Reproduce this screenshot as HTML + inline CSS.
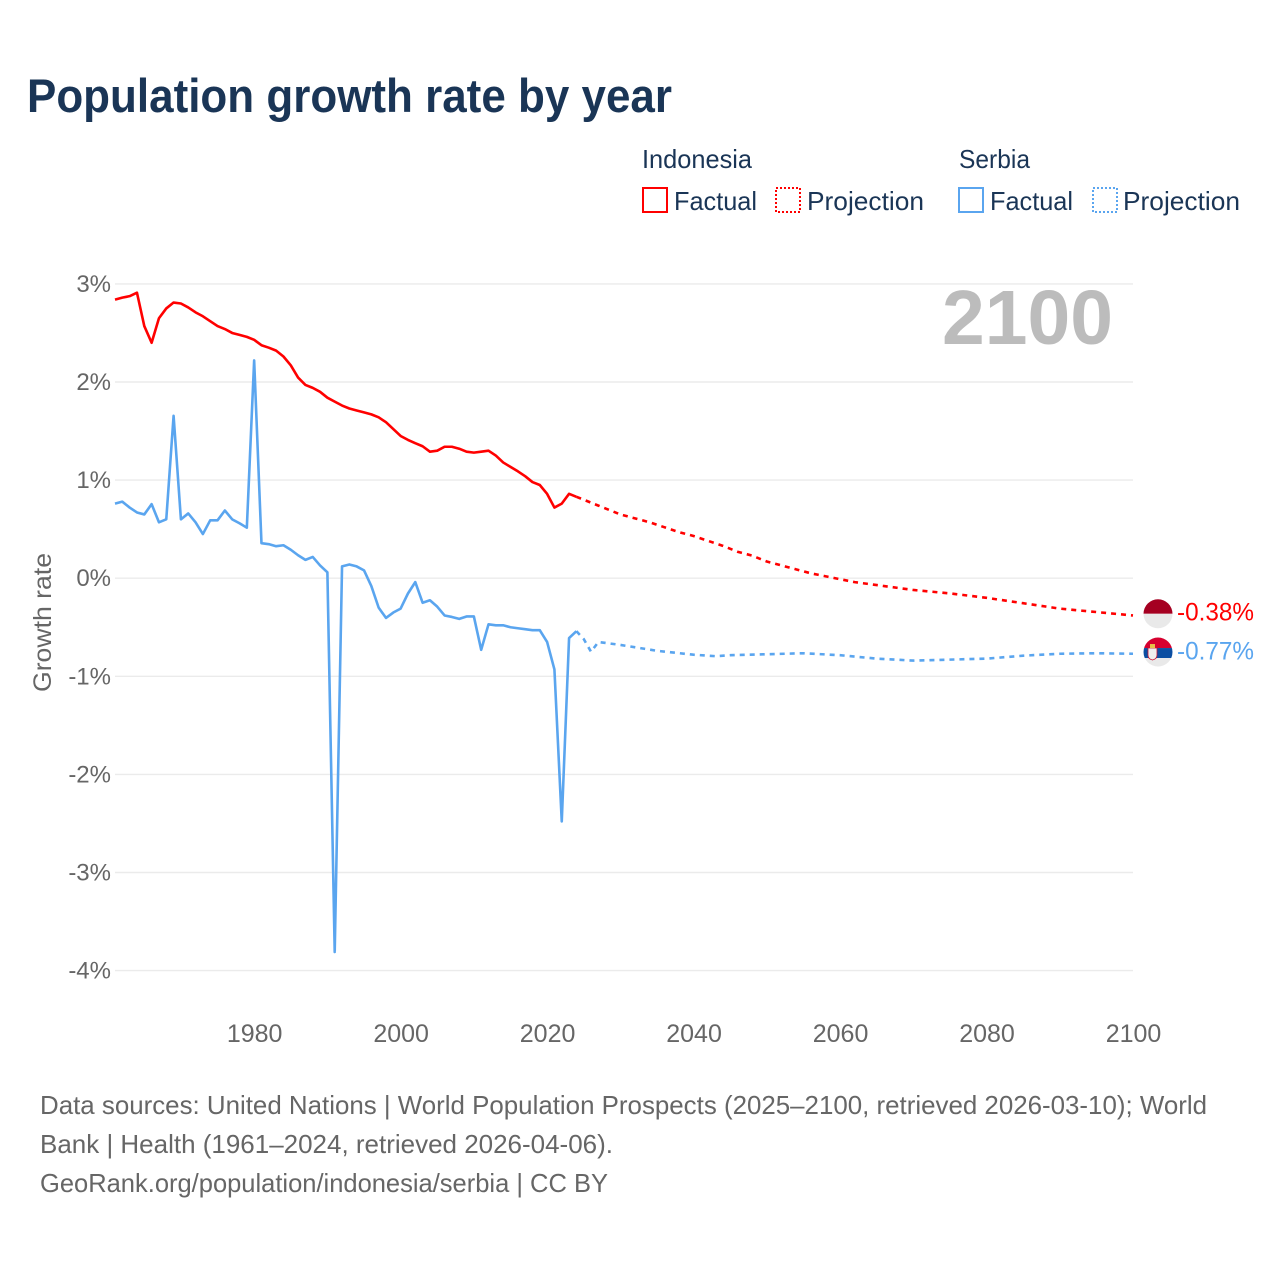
<!DOCTYPE html>
<html lang="en">
<head>
<meta charset="utf-8">
<title>Population growth rate by year</title>
<style>
html,body{margin:0;padding:0;background:#fff;width:1280px;height:1280px;overflow:hidden}
svg{display:block;font-family:"Liberation Sans",sans-serif}
</style>
</head>
<body>
<svg id="chart" width="1280" height="1280" viewBox="0 0 1280 1280" xmlns="http://www.w3.org/2000/svg">
  <defs>
    <clipPath id="flag-clip-a"><circle cx="0" cy="0" r="14.5"></circle></clipPath>
    <clipPath id="flag-clip-b"><circle cx="0" cy="0" r="14.5"></circle></clipPath>
  </defs>
  <text x="27" y="112" font-size="47" font-weight="700" fill="#1a3556" textLength="645" lengthAdjust="spacingAndGlyphs">Population growth rate by year</text>

  <g font-size="26" fill="#1a3556">
    <text x="642" y="168" textLength="110" lengthAdjust="spacingAndGlyphs">Indonesia</text>
    <text x="959" y="168" textLength="71" lengthAdjust="spacingAndGlyphs">Serbia</text>
    <rect x="643" y="188" width="24" height="24" fill="none" stroke="#ff0000" stroke-width="2"></rect>
    <text x="674" y="210" textLength="83" lengthAdjust="spacingAndGlyphs">Factual</text>
    <rect x="776" y="188" width="24" height="24" fill="none" stroke="#ff0000" stroke-width="2" stroke-dasharray="2 2"></rect>
    <text x="807" y="210" textLength="117" lengthAdjust="spacingAndGlyphs">Projection</text>
    <rect x="959" y="188" width="24" height="24" fill="none" stroke="#5aa5ef" stroke-width="2"></rect>
    <text x="990" y="210" textLength="83" lengthAdjust="spacingAndGlyphs">Factual</text>
    <rect x="1093" y="188" width="24" height="24" fill="none" stroke="#5aa5ef" stroke-width="2" stroke-dasharray="2 2"></rect>
    <text x="1123" y="210" textLength="117" lengthAdjust="spacingAndGlyphs">Projection</text>
  </g>

  <g id="grid"></g>
  <g id="y-ticks" font-size="24" fill="#666" text-anchor="end"></g>
  <g id="x-ticks" font-size="25" fill="#666" text-anchor="middle"></g>

  <text x="942" y="344" font-size="77" font-weight="700" fill="#bcbcbc" textLength="171" lengthAdjust="spacingAndGlyphs">2100</text>
  <text transform="translate(51,692) rotate(-90)" font-size="25" fill="#666" textLength="139" lengthAdjust="spacingAndGlyphs">Growth rate</text>

  <g id="series"></g>

  <g id="flag-indonesia">
    <g clip-path="url(#flag-clip-a)">
      <rect x="-15" y="-15" width="30" height="15" fill="#a50021"></rect>
      <rect x="-15" y="0" width="30" height="15" fill="#e9e9e9"></rect>
    </g>
  </g>
  <g id="flag-serbia">
    <g clip-path="url(#flag-clip-b)">
      <rect x="-15" y="-15" width="30" height="11" fill="#d6002f"></rect>
      <rect x="-15" y="-4" width="30" height="10" fill="#0b4ea2"></rect>
      <rect x="-15" y="6" width="30" height="9" fill="#e9e9e9"></rect>
      <path d="M-10,-4 h9 v7 q0,4 -4.5,5 q-4.500,-1 -4.500,-5 z" fill="#eeeeee" stroke="#c8102e" stroke-width="0.8"></path>
      <rect x="-8" y="-8" width="5" height="4" fill="#e8c04a"></rect>
    </g>
  </g>
  <text id="end-label-indonesia" x="1177" font-size="25" fill="#ff0000" textLength="77" lengthAdjust="spacingAndGlyphs"></text>
  <text id="end-label-serbia" x="1177" font-size="25" fill="#5aa5ef" textLength="77" lengthAdjust="spacingAndGlyphs"></text>

  <g font-size="26" fill="#666">
    <text x="40" y="1114" textLength="1167" lengthAdjust="spacingAndGlyphs">Data sources: United Nations | World Population Prospects (2025–2100, retrieved 2026-03-10); World</text>
    <text x="40" y="1153" textLength="573" lengthAdjust="spacingAndGlyphs">Bank | Health (1961–2024, retrieved 2026-04-06).</text>
    <text x="40" y="1192" textLength="568" lengthAdjust="spacingAndGlyphs">GeoRank.org/population/indonesia/serbia | CC BY</text>
  </g>
</svg>
<script>
const yTickValues = [3, 2, 1, 0, -1, -2, -3, -4];
const yTickLabels = ['3%', '2%', '1%', '0%', '-1%', '-2%', '-3%', '-4%'];
const xTickYears = [1980, 2000, 2020, 2040, 2060, 2080, 2100];
const factualYears = [1961,1962,1963,1964,1965,1966,1967,1968,1969,1970,1971,1972,1973,1974,1975,1976,1977,1978,1979,1980,1981,1982,1983,1984,1985,1986,1987,1988,1989,1990,1991,1992,1993,1994,1995,1996,1997,1998,1999,2000,2001,2002,2003,2004,2005,2006,2007,2008,2009,2010,2011,2012,2013,2014,2015,2016,2017,2018,2019,2020,2021,2022,2023,2024];
const indonesiaFactual = [2.84,2.86,2.875,2.91,2.57,2.40,2.65,2.75,2.81,2.80,2.76,2.71,2.67,2.62,2.57,2.54,2.50,2.48,2.46,2.43,2.375,2.35,2.32,2.26,2.17,2.045,1.97,1.94,1.90,1.84,1.80,1.76,1.73,1.71,1.69,1.67,1.64,1.59,1.52,1.45,1.41,1.376,1.345,1.29,1.30,1.34,1.34,1.32,1.29,1.28,1.29,1.30,1.25,1.18,1.135,1.09,1.04,0.98,0.95,0.86,0.72,0.76,0.86,0.83];
const serbiaFactual = [0.76,0.78,0.72,0.67,0.65,0.755,0.57,0.60,1.655,0.60,0.66,0.57,0.45,0.59,0.59,0.69,0.60,0.56,0.515,2.22,0.357,0.347,0.326,0.336,0.29,0.234,0.187,0.217,0.13,0.06,-3.81,0.12,0.14,0.12,0.08,-0.08,-0.30,-0.405,-0.35,-0.31,-0.156,-0.04,-0.25,-0.225,-0.29,-0.38,-0.395,-0.415,-0.39,-0.39,-0.73,-0.47,-0.48,-0.48,-0.50,-0.51,-0.52,-0.53,-0.53,-0.65,-0.93,-2.48,-0.61,-0.54];
const indonesiaProjectionYears = [2024,2025,2026,2027,2028,2029,2030,2032,2034,2036,2038,2040,2042,2044,2046,2048,2050,2052,2054,2056,2058,2060,2062,2064,2066,2068,2070,2075,2080,2085,2090,2095,2100];
const indonesiaProjection = [0.83,0.80,0.77,0.74,0.71,0.68,0.65,0.61,0.57,0.52,0.47,0.43,0.38,0.33,0.27,0.23,0.17,0.13,0.09,0.05,0.02,-0.01,-0.04,-0.06,-0.08,-0.10,-0.12,-0.155,-0.20,-0.255,-0.31,-0.345,-0.38];
const serbiaProjectionYears = [2024,2025,2026,2027,2030,2035,2040,2043,2045,2050,2055,2060,2065,2070,2075,2080,2085,2090,2095,2100];
const serbiaProjection = [-0.54,-0.62,-0.75,-0.65,-0.68,-0.74,-0.78,-0.795,-0.785,-0.775,-0.765,-0.785,-0.82,-0.84,-0.83,-0.82,-0.79,-0.77,-0.765,-0.77];
const endValues = [-0.38, -0.77];
const endLabels = ['-0.38%', '-0.77%'];

const SVGNS = 'http://www.w3.org/2000/svg';
function xScale(year) { return 115 + (year - 1961) * (1133 - 115) / (2100 - 1961); }
function yScale(v) { return 578.2 - v * 98.1; }
function make(tag, attrs) {
  const el = document.createElementNS(SVGNS, tag);
  for (const k in attrs) el.setAttribute(k, attrs[k]);
  return el;
}
function pathFrom(years, values) {
  return years.map((yr, i) => (i ? 'L' : 'M') + xScale(yr).toFixed(2) + ',' + yScale(values[i]).toFixed(2)).join(' ');
}

const grid = document.getElementById('grid');
const yTicks = document.getElementById('y-ticks');
yTickValues.forEach((v, i) => {
  const line = make('line', { x1: 115, x2: 1133, y1: yScale(v), y2: yScale(v), stroke: '#ebebeb', 'stroke-width': 1.4 });
  
  
  grid.appendChild(line);
  const t = make('text', { x: 111, y: yScale(v) + 8 });
  
  
  t.textContent = yTickLabels[i];
  yTicks.appendChild(t);
});

const xTicks = document.getElementById('x-ticks');
xTickYears.forEach((yr) => {
  const t = make('text', { x: xScale(yr) + 0.5, y: 1042 });
  
  
  t.textContent = String(yr);
  xTicks.appendChild(t);
});

const series = document.getElementById('series');
const redLine = make('path', { d: pathFrom(factualYears, indonesiaFactual), fill: 'none', stroke: '#ff0000', 'stroke-width': 2.6, 'stroke-linejoin': 'round' });


series.appendChild(redLine);
const redProj = make('path', { d: pathFrom(indonesiaProjectionYears, indonesiaProjection), fill: 'none', stroke: '#ff0000', 'stroke-width': 2.6, 'stroke-dasharray': '5 5' });


series.appendChild(redProj);
const blueLine = make('path', { d: pathFrom(factualYears, serbiaFactual), fill: 'none', stroke: '#5aa5ef', 'stroke-width': 2.6, 'stroke-linejoin': 'round' });


series.appendChild(blueLine);
const blueProj = make('path', { d: pathFrom(serbiaProjectionYears, serbiaProjection), fill: 'none', stroke: '#5aa5ef', 'stroke-width': 2.6, 'stroke-dasharray': '5 5' });


series.appendChild(blueProj);

document.getElementById('flag-indonesia').setAttribute('transform', 'translate(1158,' + (yScale(endValues[0]) - 1.7) + ')');
document.getElementById('flag-serbia').setAttribute('transform', 'translate(1158,' + (yScale(endValues[1]) - 1.7) + ')');
const l0 = document.getElementById('end-label-indonesia');
l0.setAttribute('y', yScale(endValues[0]) + 5);
l0.textContent = endLabels[0];
const l1 = document.getElementById('end-label-serbia');
l1.setAttribute('y', yScale(endValues[1]) + 6);
l1.textContent = endLabels[1];
</script>
</body>
</html>
